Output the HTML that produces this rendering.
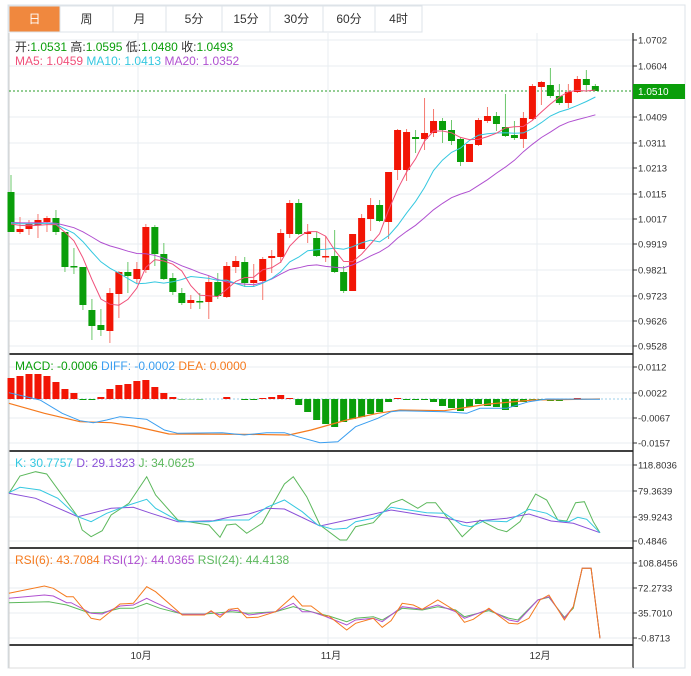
<!DOCTYPE html>
<html><head><meta charset="utf-8"><style>
body{margin:0;width:691px;height:676px;background:#fff;overflow:hidden;font-family:"Liberation Sans","Noto Sans CJK SC",sans-serif}
svg{position:absolute;left:0;top:0}
</style></head><body>
<svg id="s" width="691" height="676" xmlns="http://www.w3.org/2000/svg" font-family="Liberation Sans, Noto Sans CJK SC, sans-serif"></svg>
<script>
var S=document.getElementById('s'),h='';
function L(x1,y1,x2,y2,c,w,d){h+='<line x1="'+x1+'" y1="'+y1+'" x2="'+x2+'" y2="'+y2+'" stroke="'+c+'" stroke-width="'+(w||1)+'"'+(d?' stroke-dasharray="'+d+'"':'')+'/>';}
function R(x,y,w,hh,c,st){h+='<rect x="'+x+'" y="'+y+'" width="'+w+'" height="'+hh+'" fill="'+c+'"'+(st?' stroke="'+st+'"':'')+'/>';}
function T(x,y,t,c,s,a){h+='<text x="'+x+'" y="'+y+'" fill="'+c+'" font-size="'+s+'"'+(a?' text-anchor="'+a+'"':'')+'>'+t+'</text>';}
function P(pts,c,w){h+='<polyline fill="none" stroke="'+c+'" stroke-width="'+(w||1)+'" points="'+pts.map(function(p){return p[0].toFixed(1)+','+p[1].toFixed(1)}).join(' ')+'"/>';}
// frame
R(8,5,677,663,'#fff','#dde3e8');
// tabs
var tabs=[['日',9,60],['周',60,113],['月',113,166],['5分',166,222],['15分',222,270],['30分',270,323],['60分',323,375],['4时',375,422]];
tabs.forEach(function(t,i){R(t[1],6,t[2]-t[1],26,i==0?'#f0883e':'#fff','#dde3e8');T((t[1]+t[2])/2,23,t[0],i==0?'#fff':'#333',12,'middle');});
// grid
var gy=[40,66,117,143,168,194,219,244,270,296,321,346,367,393,418,443,465,491,517,541,563,588,613,638];
gy.forEach(function(y){L(9,y,633,y,'#e8eef2');});
[138,328,537].forEach(function(x){L(x,33,x,645,'#e8eef2');});
// separators
[354,451,548,645].forEach(function(y){L(9,y,633,y,'#000',1.5);});
L(9,33,9,668,'#ccc');L(633,33,633,668,'#222',1.2);L(9,668,633,668,'#ddd');
// axis labels
var lab=[[40,'1.0702'],[66,'1.0604'],[117,'1.0409'],[143,'1.0311'],[168,'1.0213'],[194,'1.0115'],[219,'1.0017'],[244,'0.9919'],[270,'0.9821'],[296,'0.9723'],[321,'0.9626'],[346,'0.9528'],
[367,'0.0112'],[393,'0.0022'],[418,'-0.0067'],[443,'-0.0157'],[465,'118.8036'],[491,'79.3639'],[517,'39.9243'],[541,'0.4846'],[563,'108.8456'],[588,'72.2733'],[613,'35.7010'],[638,'-0.8713']];
lab.forEach(function(l){L(633,l[0],637,l[0],'#333');T(638,l[0]+3.5,l[1],'#333',9.5);});
[[138,'10月'],[328,'11月'],[537,'12月']].forEach(function(m){T(m[0]+3,659,m[1],'#333',10,'middle');});
// candles [open,close,high,low]
var C=[[192,232,175,232],[232,229,217,234],[229,224,220,235],[225,220,214,238],[222,218,216,232],[218,232,210,235],[232,267,232,272],[266,267,248,274],[267,305,267,310],[310,326,299,340],[325,330,309,336],[331,293,288,343],[294,272,271,318],[272,276,262,293],[279,269,262,283],[270,227,224,273],[227,254,225,266],[254,279,243,280],[278,292,273,295],[293,303,288,305],[303,300,295,309],[301,302,293,309],[302,282,276,319],[282,296,273,299],[297,266,262,298],[267,261,256,273],[262,283,257,287],[283,280,264,287],[281,259,257,300],[258,256,250,273],[257,233,229,263],[234,203,200,238],[203,234,199,235],[234,232,224,243],[238,256,232,257],[257,256,236,262],[256,272,230,273],[272,291,266,293],[291,234,234,291],[249,218,214,249],[219,205,198,231],[205,221,200,222],[222,172,172,239],[170,130,129,180],[170,132,129,181],[137,139,130,153],[139,133,98,150],[133,121,109,137],[121,130,118,143],[130,141,120,145],[139,162,137,166],[162,144,144,162],[145,120,118,146],[121,116,107,123],[116,124,112,131],[127,136,94,137],[135,138,121,140],[139,118,112,148],[119,86,84,120],[87,82,81,105],[85,96,68,98],[96,103,84,105],[103,92,84,108],[92,79,76,93],[79,85,70,92],[86,91,84,91]];
function X(i){return 11+i*8.99;}
var closes=[];for(var k=0;k<20;k++)closes.push(222);
C.forEach(function(c){closes.push(c[1]);});
function MA(n){var a=[];for(var i=0;i<C.length;i++){var s=0;for(var j=0;j<n;j++)s+=closes[i+20-j];a.push([X(i),s/n]);}return a;}
// price line
L(9,91,633,91,'#2a9d2a',1,'2,2');
C.forEach(function(c,i){var up=c[1]<c[0],col=up?'#f21505':'#0a9e0a',wc=up?'#f57a70':'#6cc86c';var x=X(i);
L(x,c[2],x,c[3],wc,1);var t=Math.min(c[0],c[1]),b=Math.max(c[0],c[1]);R(x-3.5,t,7,Math.max(b-t,1.5),col);});
P(MA(20),'#b050d0');P(MA(10),'#35c8e0');P(MA(5),'#f0507a');
R(633,84,52,15,'#0a9e0a');T(638,95,'1.0510','#fff',10);
// legends
T(15,51,'<tspan fill="#333">开:</tspan>1.0531 <tspan fill="#333"> 高:</tspan>1.0595 <tspan fill="#333"> 低:</tspan>1.0480 <tspan fill="#333"> 收:</tspan>1.0493','#0a9e0a',12);
T(15,65,'MA5: 1.0459 <tspan fill="#35c8e0"> MA10: 1.0413</tspan><tspan fill="#b050d0">  MA20: 1.0352</tspan>','#f0507a',12);
// MACD
L(9,399,633,399,'#9ecfe8',1,'2,2');
var hist=[-21,-23,-25,-25,-23,-17,-10,-6,1,1,-2,-10,-14,-15,-18,-19,-12,-6,-2,0.5,0.3,0.5,0,0,-2,0,1,1,-1,-2,-4,-1,6,13,21,25,28,23,20,18,15,13,3,-1,1,1,1,3,7,9,12,8,5,7,8,11,8,3,0.5,0.5,2,2,0.5,-1,0.3,0.3];
hist.forEach(function(v,i){var x=X(i);if(v<0)R(x-3.5,399+v,7,-v,'#f21505');else if(v>0)R(x-3.5,399,7,v,'#0a9e0a');});
function Z(a,off){return a.map(function(p){return [p[0]/2.25,off+p[1]/3];});}
P(Z([[20,160],[100,190],[180,215],[250,218],[300,228],[380,252],[550,253],[650,255],[700,240],[780,210],[850,190],[900,180],[1000,182],[1100,162],[1200,150],[1350,147]],350),'#f57a1e',1.2);
P(Z([[20,128],[90,150],[140,190],[180,212],[210,218],[240,210],[270,200],[330,208],[370,240],[400,250],[500,248],[550,255],[600,248],[640,248],[670,260],[720,278],[760,275],[800,230],[850,205],[880,185],[900,182],[1000,185],[1050,190],[1080,175],[1140,175],[1190,155],[1230,147],[1350,148]],350),'#3a9ef0');
T(15,370,'MACD: -0.0006 <tspan fill="#3a9ef0"> DIFF: -0.0002</tspan><tspan fill="#f57a1e">  DEA: 0.0000</tspan>','#0a9e0a',12);
// KDJ
P(Z([[20,130],[45,78],[80,65],[105,72],[175,200],[185,240],[205,260],[230,242],[250,195],[290,160],[330,80],[350,135],[400,210],[470,225],[495,262],[510,225],[530,222],[555,250],[590,220],[640,102],[660,80],[690,140],[720,225],[765,270],[780,270],[800,230],[840,218],[880,160],[905,148],[940,175],[960,158],[980,158],[1040,260],[1080,210],[1120,238],[1140,245],[1170,215],[1205,132],[1230,150],[1255,210],[1275,213],[1295,158],[1315,155],[1335,215],[1350,248]],450),'#5cb85c');
P(Z([[20,130],[80,145],[175,200],[250,175],[300,172],[340,190],[400,215],[480,212],[520,200],[560,192],[600,175],[640,177],[720,228],[800,205],[880,180],[950,195],[1000,203],[1050,218],[1080,212],[1140,205],[1190,192],[1240,213],[1290,220],[1350,248]],450),'#8a50d8');
P(Z([[20,128],[45,112],[90,120],[130,145],[175,200],[205,215],[240,190],[290,165],[330,148],[350,175],[405,215],[470,215],[500,210],[520,210],[560,210],[600,172],[640,150],[680,185],[715,225],[750,238],[780,235],[800,215],[840,205],[880,172],[920,180],[960,188],[1000,190],[1040,225],[1060,230],[1090,212],[1140,215],[1190,178],[1230,190],[1260,213],[1280,215],[1300,202],[1320,208],[1350,248]],450),'#35c8e0');
T(15,467,'K: 30.7757 <tspan fill="#8a50d8"> D: 29.1323</tspan><tspan fill="#5cb85c">  J: 34.0625</tspan>','#35c8e0',12);
// RSI
P(Z([[20,158],[110,155],[150,165],[200,188],[230,188],[270,175],[300,175],[330,160],[360,175],[410,192],[460,192],[520,185],[560,190],[620,185],[660,170],[700,185],[740,198],[780,215],[800,205],[840,200],[860,210],[905,175],[950,180],[985,170],[1025,180],[1045,200],[1100,182],[1145,205],[1165,210],[1210,150],[1235,142],[1270,202],[1290,175],[1310,55],[1330,55],[1350,265]],550),'#5cb85c');
P(Z([[20,145],[100,135],[120,138],[150,158],[160,158],[205,190],[230,192],[270,168],[300,165],[330,145],[350,158],[410,193],[460,193],[475,185],[495,195],[520,180],[535,182],[560,195],[620,185],[660,160],[680,185],[700,185],[730,198],[780,225],[800,210],[840,205],[860,215],[905,170],[950,178],[985,165],[1025,185],[1045,205],[1100,178],[1145,210],[1165,215],[1210,150],[1235,140],[1270,205],[1290,170],[1310,55],[1330,55],[1350,265]],550),'#b050d0');
P(Z([[20,130],[100,108],[120,115],[150,140],[165,140],[205,205],[225,210],[270,162],[300,160],[330,110],[350,125],[410,195],[460,195],[475,182],[495,202],[515,178],[535,175],[555,203],[580,202],[620,185],[660,138],[680,168],[700,168],[730,198],[740,198],[780,240],[800,220],[840,205],[860,232],[880,212],[905,160],[930,165],[950,178],[985,150],[1025,183],[1045,217],[1065,208],[1100,175],[1145,220],[1165,222],[1190,205],[1215,150],[1235,135],[1270,210],[1290,170],[1310,55],[1330,55],[1350,265]],550),'#f57a1e');
T(15,564,'RSI(6): 43.7084 <tspan fill="#b050d0"> RSI(12): 44.0365</tspan><tspan fill="#5cb85c">  RSI(24): 44.4138</tspan>','#f57a1e',12);
S.innerHTML=h;
</script>
</body></html>
